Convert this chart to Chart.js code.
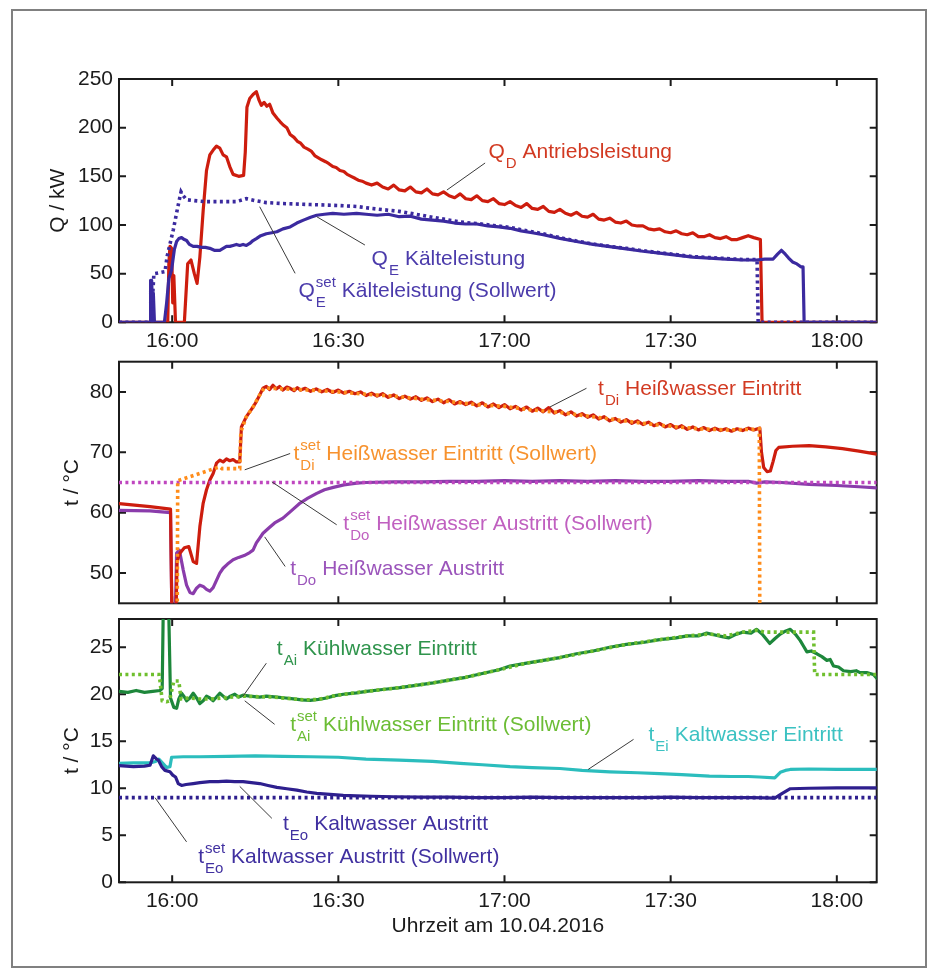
<!DOCTYPE html>
<html>
<head>
<meta charset="utf-8">
<script src="https://cdn.jsdelivr.net/npm/chart.js@4.4.0/dist/chart.umd.min.js"></script>
<style>
  body { margin: 0; background: #fff; }
  #wrap { position: relative; width: 928px; height: 976px; }
  #wrap canvas { position: absolute; left: 0; top: 0; }
  #frame { position: absolute; left: 11px; top: 9px; width: 912px; height: 955px; border: 2px solid #808080; }
</style>
</head>
<body>
<div id="wrap">
  <div id="frame"></div>
  <canvas id="chartQ" width="928" height="976"></canvas>
  <canvas id="chartHot" width="928" height="976"></canvas>
  <canvas id="chartCold" width="928" height="976"></canvas>
</div>
<script>
// --- DATEN (Minuten relativ zu 16:00) ---
const xMin = -9.6, xMax = 127.2;
const xTickValues = [0, 30, 60, 90, 120];
const xTickLabels = ["16:00", "16:30", "17:00", "17:30", "18:00"];
const qTicks = [0, 50, 100, 150, 200, 250];
const hotTicks = [50, 60, 70, 80];
const coldTicks = [0, 5, 10, 15, 20, 25];

// Q_D Antriebsleistung
const qdTime = [-9.6,-0.8,-0.6,-0.4,-0.1,0.1,0.3,0.6,2.2,2.8,3.4,4.0,4.5,5.0,5.6,6.2,6.8,7.4,8.0,8.6,9.2,9.8,10.4,11.0,12.0,12.9,13.2,13.5,14.0,14.6,15.2,15.7,16.1,16.6,17.1,17.6,18.2,18.9,19.5,20.0,20.7,21.3,22.0,22.6,23.2,23.8,24.5,25.1,25.8,26.4,27.0,27.7,28.3,29.0,29.6,30.3,31.0,31.6,32.3,33.0,33.6,34.3,35.0,36,37,38,39,40,41,42,43,44,45,46,47,48,49,50,51,52,53,54,55,56,57,58,59,60,61,62,63,64,65,66,67,68,69,70,71,72,73,74,75,76,77,78,79,80,81,82,83,84,85,86,87,88,89,90,91,92,93,94,95,96,97,98,99,100,101,102,103,104,105,106.2,106.5,127.2];
const qdValues = [0,0,60,78,76,20,48,0,0,60,64,50,40,67,115,156,172,177,181,179,172,170,160,152,150,151,175,221,230,234,237,228,223,226,222,224,215,210,206,203,200,193,190,186,184,180,178,176,171,169,167,165,163,160,159,156,155,152,150,148,146,145,143,141,143,139,137,141,136,135,139,134,133,137,132,131,134,130,128,132,127,126,130,125,124,127,122,121,124,120,118,122,117,116,119,114,113,116,112,110,113,109,108,111,106,105,107,103,102,104,100,99,99,96,95,96,93,92,94,91,90,92,88,88,90,87,86,88,85,85,87,89,87,85,0,0];

// Q_E Kälteleistung
const qeTime = [-9.6,-4.0,-3.9,-3.8,-3.7,-3.5,-3.4,-3.2,-1.4,-1.0,-0.6,-0.1,0.4,0.8,1.2,1.7,2.2,2.6,3.1,3.8,4.5,5.3,6.0,6.8,7.6,8.6,9.2,9.8,10.4,11.0,11.6,12.2,12.8,13.4,14.0,14.6,15.2,16.0,17.0,18.0,18.9,20.0,21.3,22.5,23.7,25.0,26.1,27.5,29.0,31.0,33.3,35,37,39,41,43,45,47,49,51,53,55,57,59,61,63,65,67,70,73,76,79,82,85,88,91,94,97,100,103,105.5,107,108.5,109.3,110.0,110.7,111.3,112.0,112.8,113.5,113.9,114.1,127.2];
const qeValues = [0,0,43,0,43,0,30,0,0,20,45,54,75,83,86,87,85,84,80,78,78,77,77,76,74,74,76,78,78,79,80,79,80,79,81,84,86,89,91,92,93,96,98,102,105,108,110,111,112,111,112,111,110,111,108.5,109,106,105,104,102,101,101,99,98,96.6,94,92,90,86.3,83,80,77.7,75.5,73,71,69,67,66,65,64,64,65,65,70,74,70,66,62,60,57,57,0,0];

// Q_E^set Kälteleistung (Sollwert)
const qsTime = [-9.6,-3.6,-3.5,-3.3,-1.3,-0.9,0.2,1.0,1.6,2.0,2.6,4,6,8,10,11.6,13.4,15,17,20,25,30,33.3,36,41,47,52,55,58,61,64,67,70,73,76,79,82,85,88,91,94,97,100,103,105.6,105.8,127.2];
const qsValues = [0,0,30,50,52,68,95,118,134,130,126,125,124,124,124,124,127,125,123,122,121,120,119,117,114,108,103,101.5,99.5,97.5,94,91,87,83.5,80.5,78,76,73.5,71.5,69.5,67.5,66.5,65.5,64.5,64.5,0,0];

// t_Di Heißwasser Eintritt
const tdiTime = [-9.6,-4,-0.3,0.0,0.6,0.9,1.4,2.2,3.0,3.8,4.4,5.0,5.6,6.2,6.8,7.4,8.0,8.6,9.2,9.8,10.4,11.0,11.6,12.2,12.5,13.4,14.0,14.6,15.2,15.8,16.4,17.0,17.6,18.2,18.8,19.4,20,20.7,21.3,22,22.6,23.2,24,25,26,27,28,29,30,31,32,33,34,35,36,37,38,39,40,41,42,43,44,45,46,47,48,49,50,51,52,53,54,55,56,57,58,59,60,61,62,63,64,65,66,67,68,69,70,71,72,73,74,75,76,77,78,79,80,81,82,83,84,85,86,87,88,89,90,91,92,93,94,95,96,97,98,99,100,101,102,103,104,105,106.1,106.4,106.8,107.4,108.0,108.5,109.0,109.5,112,115,118,121,124,127.2];
const tdiValues = [61.5,61.0,60.6,40,40,52,53.3,54.2,54.4,51.9,51.6,57.7,61.6,63.8,65.4,66.5,68.2,68.7,68.4,68.9,68.6,68.8,68.4,68.4,74.2,75.9,76.7,77.5,78.4,79.5,80.6,80.9,80.4,81.1,80.5,80.9,80.3,80.8,80.6,80.2,80.7,80.3,80.6,80.1,80.5,80.0,80.4,79.9,80.3,79.8,80.1,79.7,80.0,79.4,79.8,79.3,79.7,79.1,79.5,78.9,79.3,78.8,79.2,78.6,79.0,78.4,78.8,78.2,78.7,78.0,78.4,77.9,78.3,77.7,78.2,77.5,78.0,77.4,77.9,77.2,77.6,77.0,77.5,76.8,77.3,76.7,77.4,76.5,76.9,76.2,76.7,76.0,76.4,75.8,76.2,75.5,75.9,75.2,75.6,75.0,75.4,74.8,75.2,74.6,75.0,74.4,74.8,74.2,74.6,74.0,74.4,73.8,74.2,73.7,74.1,73.6,74.0,73.6,73.9,73.5,73.9,73.6,74.0,73.7,74.0,70,67.5,66.8,66.9,68.5,70.3,70.8,71.0,71.1,70.9,70.6,70.2,69.7];

// t_Di^set Heißwasser Eintritt (Sollwert)
const tdsTime = [0.9,1.0,8.6,9.0,12.2,12.4,13.4,14.6,15.8,16.6,18,20,25,30,35,40,45,50,55,60,65,70,75,80,85,90,95,100,105,106.0,106.1];
const tdsValues = [40,65.3,67.6,67.3,67.3,73.4,75.9,77.5,79.5,80.6,80.6,80.5,80.3,80.0,79.6,79.3,78.8,78.4,77.9,77.6,77.0,76.6,76.0,75.4,74.8,74.3,73.9,73.7,73.8,73.9,40];

// t_Do Heißwasser Austritt
const tdoTime = [-9.6,-4,-0.3,0.0,0.5,0.8,1.3,2.0,2.6,3.2,3.8,4.4,5.0,5.6,6.2,6.8,7.4,8.0,8.6,9.2,10.0,11.0,12.0,13.0,14.0,14.6,15.2,15.8,16.4,17.5,18.5,20.0,21.5,23.1,24.5,26.1,27.5,29.1,31,33.3,35,40,45,50,55,60,65,70,75,80,85,90,95,100,104,105.5,107,110,115,120,124,127.2];
const tdoValues = [60.4,60.3,60.0,40,40,53.3,53.8,50.5,48,46.8,46.6,47.5,48,47.8,47.3,47.0,47.6,48.8,50.0,50.8,51.5,52.2,52.6,52.9,53.4,53.8,55.0,55.8,56.6,57.5,58.3,59.1,60.3,61.6,62.4,63.2,63.8,64.2,64.6,64.9,65.0,65.1,65.1,65.2,65.2,65.3,65.2,65.3,65.2,65.3,65.2,65.2,65.3,65.2,65.2,64.9,65.1,65.0,64.7,64.5,64.3,64.1];

// t_Do^set Heißwasser Austritt (Sollwert)
const tdoSetTime = [-9.6, 127.2];
const tdoSetValues = [65, 65];

// t_Ai Kühlwasser Eintritt
const taiTime = [-9.6,-8,-6.5,-5,-3.5,-2.2,-1.8,-1.5,-0.8,-0.3,0.3,0.8,1.2,1.7,2.2,2.6,3.2,3.8,4.4,5.0,5.6,6.2,6.8,7.4,8.0,8.6,9.2,9.8,10.5,11.3,12.0,12.8,14,15.8,17,18.9,20.5,21.9,23.4,24.9,26.4,27.9,29.4,30.9,33.3,35.1,38,41.1,44,47.1,50,53,56,59,61,64,67,70,73,76,79,82,85,88,91,93,95,96.5,98,99.5,100.5,101.5,103,104.5,105.5,106.5,107.9,108.8,109.8,110.7,111.6,112.5,113.4,114.0,114.6,115.4,116.4,117.3,118.2,118.8,119.4,120.3,121.2,122.5,123.5,124.2,125.4,126.6,127.2];
const taiValues = [20.3,20.2,20.4,20.2,20.3,20.4,20.6,34,34,19.6,18.6,18.5,19.5,20.1,19.7,19.3,19.6,20.1,19.6,19.0,19.3,19.8,19.6,19.3,19.7,20.1,19.8,19.5,19.8,20.0,19.7,19.9,19.8,19.7,19.8,19.7,19.6,19.5,19.4,19.35,19.45,19.6,19.85,20.0,20.15,20.3,20.5,20.7,20.95,21.2,21.5,21.8,22.2,22.6,23.0,23.3,23.6,23.9,24.3,24.6,25.0,25.3,25.5,25.8,26.0,26.2,26.2,26.5,26.3,26.1,26.0,26.3,26.6,26.5,26.9,26.4,25.4,25.9,26.4,26.7,26.9,26.4,25.7,25.1,24.5,24.6,24.3,24.0,23.6,23.7,23.0,22.9,22.5,22.4,22.5,22.3,22.3,22.1,21.7];

// t_Ai^set Kühlwasser Eintritt (Sollwert)
const tasTime = [-9.6,-2.4,-2.2,-1.8,-1.0,-0.5,0.3,1.2,1.6,3,5,7,9,11,13,15,18,21,24,26.4,29.4,33,35,41,47,53,59,64,70,76,82,88,93,97,100,103,105.5,107,115.8,116.0,127.2];
const tasValues = [22.1,22.1,21.4,19.3,19.2,19.3,21.4,21.4,19.5,19.6,19.5,19.5,19.6,19.7,19.8,19.75,19.7,19.55,19.4,19.45,19.85,20.15,20.3,20.7,21.2,21.8,22.6,23.3,23.9,24.6,25.3,25.8,26.2,26.4,26.2,26.6,26.8,26.6,26.6,22.1,22.1];

// t_Ei Kaltwasser Eintritt
const teiTime = [-9.6,-7,-4,-3,-2.4,-1.6,-1.0,-0.4,-0.1,2,5,10,15,20,25,30,35,41,47,52,56,61,65,70,74,79,84,88,92,97,101,104,106,108.8,109.8,110.7,111.6,115,120,127.2];
const teiValues = [12.65,12.7,12.7,12.85,13.1,12.6,12.2,12.3,13.3,13.35,13.35,13.4,13.45,13.4,13.35,13.3,13.1,13.0,12.85,12.65,12.5,12.3,12.2,12.1,11.9,11.75,11.65,11.55,11.45,11.3,11.25,11.25,11.2,11.1,11.7,11.9,12.0,12.05,12.0,12.0];

// t_Eo Kaltwasser Austritt
const teoTime = [-9.6,-7,-5,-4.0,-3.4,-2.8,-2.5,-1.9,-1.3,-0.4,0.1,0.6,1.1,1.7,2.5,3.8,5,6.8,8.3,9.8,11.3,12.8,14.3,15.8,17.3,18.9,20.7,22.5,24.3,26.1,28.5,30.9,33.3,36,40,45,50,55,60,65,70,75,80,85,90,95,100,105,108.8,110,111.6,115,120,127.2];
const teoValues = [12.4,12.3,12.35,12.45,13.45,13.1,13.0,12.3,11.9,11.75,11.4,11.2,10.5,10.3,10.4,10.5,10.6,10.7,10.7,10.75,10.7,10.7,10.6,10.5,10.3,10.1,9.95,9.8,9.6,9.45,9.35,9.25,9.2,9.15,9.1,9.05,9.05,9.0,9.0,9.05,9.0,9.0,9.0,9.0,9.05,9.0,9.0,9.0,8.95,9.4,9.95,10.0,10.05,10.05];

// t_Eo^set Kaltwasser Austritt (Sollwert)
const teoSetTime = [-9.6, 127.2];
const teoSetValues = [9, 9];

// --- STIL ---
const FONT = "'Liberation Sans', Arial, Helvetica, sans-serif";
const INK = "#1b1b1b";
const C = {
  red: "#cd1d0e", redTxt: "#d23a22",
  blue: "#3b2a9f", blueTxt: "#4b3bab",
  orange: "#ff8c1a", orangeTxt: "#f7922e",
  purple: "#8a3cab", purpleTxt: "#9b55bb",
  magenta: "#bf46bf", magentaTxt: "#c060c0",
  dkgreen: "#1d873b", dkgreenTxt: "#2f944c",
  ltgreen: "#6fbf2e", ltgreenTxt: "#6cbd35",
  cyan: "#2bbdbd", cyanTxt: "#3cc2c2",
  navy: "#2e1f8e", navyTxt: "#4030a0"
};

function series(t, v) {
  return t.map((x, i) => ({ x: x, y: v[i] }));
}

function solid(data, color) {
  return { data, borderColor: color, borderWidth: 3.2, pointRadius: 0, tension: 0, borderJoinStyle: "round", borderCapStyle: "round" };
}
function dotted(data, color) {
  return { data, borderColor: color, borderWidth: 3.6, pointRadius: 0, tension: 0, borderDash: [3, 3.4], borderCapStyle: "butt" };
}

// Beschriftung mit Index (z.B. Q_D, t^set_Di)
function drawNote(ctx, xs, ys, n) {
  ctx.strokeStyle = "#3a3a3a";
  ctx.lineWidth = 1;
  ctx.beginPath();
  ctx.moveTo(xs.getPixelForValue(n.line[0]), ys.getPixelForValue(n.line[1]));
  ctx.lineTo(xs.getPixelForValue(n.line[2]), ys.getPixelForValue(n.line[3]));
  ctx.stroke();

  let px = xs.getPixelForValue(n.x);
  const py = ys.getPixelForValue(n.y);
  ctx.fillStyle = n.color;
  ctx.textAlign = "left";
  ctx.textBaseline = "alphabetic";
  ctx.font = "21px " + FONT;
  ctx.fillText(n.sym, px, py);
  px += ctx.measureText(n.sym).width + 1;
  ctx.font = "15px " + FONT;
  let w = 0;
  if (n.sub) { ctx.fillText(n.sub, px, py + 10); w = ctx.measureText(n.sub).width; }
  if (n.sup) { ctx.fillText(n.sup, px, py - 10); w = Math.max(w, ctx.measureText(n.sup).width); }
  ctx.font = "21px " + FONT;
  ctx.fillText(n.text, px + w + 6, py);
}

// MATLAB-Achsenbox mit Ticks nach innen
const matlabAxes = {
  id: "matlabAxes",
  beforeDatasetsDraw(chart) {
    const { ctx, chartArea: a, scales: { x, y } } = chart;
    ctx.save();
    ctx.strokeStyle = INK;
    ctx.lineWidth = 2;
    ctx.beginPath();
    x.ticks.forEach(t => {
      const p = x.getPixelForValue(t.value);
      ctx.moveTo(p, a.bottom); ctx.lineTo(p, a.bottom - 7);
      ctx.moveTo(p, a.top); ctx.lineTo(p, a.top + 7);
    });
    y.ticks.forEach(t => {
      const p = y.getPixelForValue(t.value);
      ctx.moveTo(a.left, p); ctx.lineTo(a.left + 7, p);
      ctx.moveTo(a.right, p); ctx.lineTo(a.right - 7, p);
    });
    ctx.stroke();
    ctx.strokeRect(a.left, a.top, a.right - a.left, a.bottom - a.top);
    ctx.restore();
  },
  afterDraw(chart, args, opts) {
    const { ctx, scales: { x, y } } = chart;
    ctx.save();
    (opts.notes || []).forEach(n => drawNote(ctx, x, y, n));
    ctx.restore();
  }
};

function makeChart(canvasId, cfg) {
  const tickFont = { family: FONT, size: 21 };
  return new Chart(document.getElementById(canvasId), {
    type: "line",
    data: { datasets: cfg.datasets },
    options: {
      responsive: false,
      animation: false,
      events: [],
      layout: { padding: { left: 0, right: 51.3, top: cfg.top, bottom: cfg.bottom } },
      scales: {
        x: {
          type: "linear",
          min: xMin,
          max: xMax,
          afterBuildTicks: s => { s.ticks = xTickValues.map(v => ({ value: v })); },
          afterFit: s => { s.height = cfg.xHeight; },
          grid: { display: false, drawTicks: false },
          border: { display: false },
          ticks: {
            display: cfg.xLabels,
            padding: 6,
            color: INK,
            font: tickFont,
            maxRotation: 0,
            autoSkip: false,
            callback: v => xTickLabels[xTickValues.indexOf(v)]
          },
          title: cfg.xTitle
            ? { display: true, text: cfg.xTitle, color: INK, font: tickFont, padding: { top: 0, bottom: 0 } }
            : { display: false }
        },
        y: {
          type: "linear",
          min: cfg.yMin,
          max: cfg.yMax,
          afterBuildTicks: s => { s.ticks = cfg.yTicks.map(v => ({ value: v })); },
          afterFit: s => { s.width = 119; },
          grid: { display: false, drawTicks: false },
          border: { display: false },
          ticks: { padding: 6, color: INK, font: tickFont },
          title: { display: true, text: cfg.yTitle, color: INK, font: tickFont, padding: { top: cfg.yTitlePad, bottom: 0 } }
        }
      },
      plugins: {
        legend: { display: false },
        tooltip: { enabled: false },
        matlabAxes: { notes: cfg.notes }
      }
    },
    plugins: [matlabAxes]
  });
}

// Oben: Leistungen
makeChart("chartQ", {
  top: 79, bottom: 613.7, xHeight: 40, xLabels: true,
  yMin: 0, yMax: 250, yTicks: qTicks, yTitle: "Q / kW", yTitlePad: 45.9,
  datasets: [
    dotted(series(qsTime, qsValues), C.blue),
    solid(series(qeTime, qeValues), C.blue),
    solid(series(qdTime, qdValues), C.red)
  ],
  notes: [
    { x: 57.1, y: 168.5, sym: "Q", sub: "D", text: "Antriebsleistung", color: C.redTxt, line: [56.5, 163.7, 49.6, 135.9] },
    { x: 36.0, y: 58.9, sym: "Q", sub: "E", text: "Kälteleistung", color: C.blueTxt, line: [34.8, 79.4, 26.1, 108.5] },
    { x: 22.8, y: 26.3, sym: "Q", sub: "E", sup: "set", text: "Kälteleistung (Sollwert)", color: C.blueTxt, line: [22.2, 50.3, 15.8, 118.8] }
  ]
});

// Mitte: Heißwasser
makeChart("chartHot", {
  top: 361.7, bottom: 367.7, xHeight: 5, xLabels: false,
  yMin: 45, yMax: 85, yTicks: hotTicks, yTitle: "t / °C", yTitlePad: 59.9,
  datasets: [
    dotted(series(tdsTime, tdsValues), C.orange),
    dotted(series(tdoSetTime, tdoSetValues), C.magenta),
    solid(series(tdiTime, tdiValues), C.red),
    solid(series(tdoTime, tdoValues), C.purple)
  ],
  notes: [
    { x: 76.9, y: 79.5, sym: "t", sub: "Di", text: "Heißwasser Eintritt", color: C.redTxt, line: [74.8, 80.6, 68.2, 77.5] },
    { x: 21.9, y: 68.7, sym: "t", sub: "Di", sup: "set", text: "Heißwasser Eintritt (Sollwert)", color: C.orangeTxt, line: [21.3, 69.8, 13.1, 67.1] },
    { x: 30.9, y: 57.1, sym: "t", sub: "Do", sup: "set", text: "Heißwasser Austritt (Sollwert)", color: C.magentaTxt, line: [29.7, 58.0, 18.0, 65.1] },
    { x: 21.3, y: 49.7, sym: "t", sub: "Do", text: "Heißwasser Austritt", color: C.purpleTxt, line: [20.4, 51.1, 16.7, 56.0] }
  ]
});

// Unten: Kühl- und Kaltwasser
makeChart("chartCold", {
  top: 619, bottom: 36.9, xHeight: 56.8, xLabels: true, xTitle: "Uhrzeit am 10.04.2016",
  yMin: 0, yMax: 28, yTicks: coldTicks, yTitle: "t / °C", yTitlePad: 59.9,
  datasets: [
    dotted(series(tasTime, tasValues), C.ltgreen),
    solid(series(taiTime, taiValues), C.dkgreen),
    dotted(series(teoSetTime, teoSetValues), C.navy),
    solid(series(teoTime, teoValues), C.navy),
    solid(series(teiTime, teiValues), C.cyan)
  ],
  notes: [
    { x: 18.9, y: 24.2, sym: "t", sub: "Ai", text: "Kühlwasser Eintritt", color: C.dkgreenTxt, line: [17.0, 23.3, 12.8, 19.8] },
    { x: 21.3, y: 16.1, sym: "t", sub: "Ai", sup: "set", text: "Kühlwasser Eintritt (Sollwert)", color: C.ltgreenTxt, line: [18.5, 16.8, 13.1, 19.3] },
    { x: 86.0, y: 15.0, sym: "t", sub: "Ei", text: "Kaltwasser Eintritt", color: C.cyanTxt, line: [83.3, 15.2, 75.1, 12.0] },
    { x: 20.0, y: 5.6, sym: "t", sub: "Eo", text: "Kaltwasser Austritt", color: C.navyTxt, line: [18.0, 6.8, 12.2, 10.2] },
    { x: 4.7, y: 2.0, sym: "t", sub: "Eo", sup: "set", text: "Kaltwasser Austritt (Sollwert)", color: C.navyTxt, line: [2.6, 4.3, -3.1, 9.0] }
  ]
});
</script>
</body>
</html>
